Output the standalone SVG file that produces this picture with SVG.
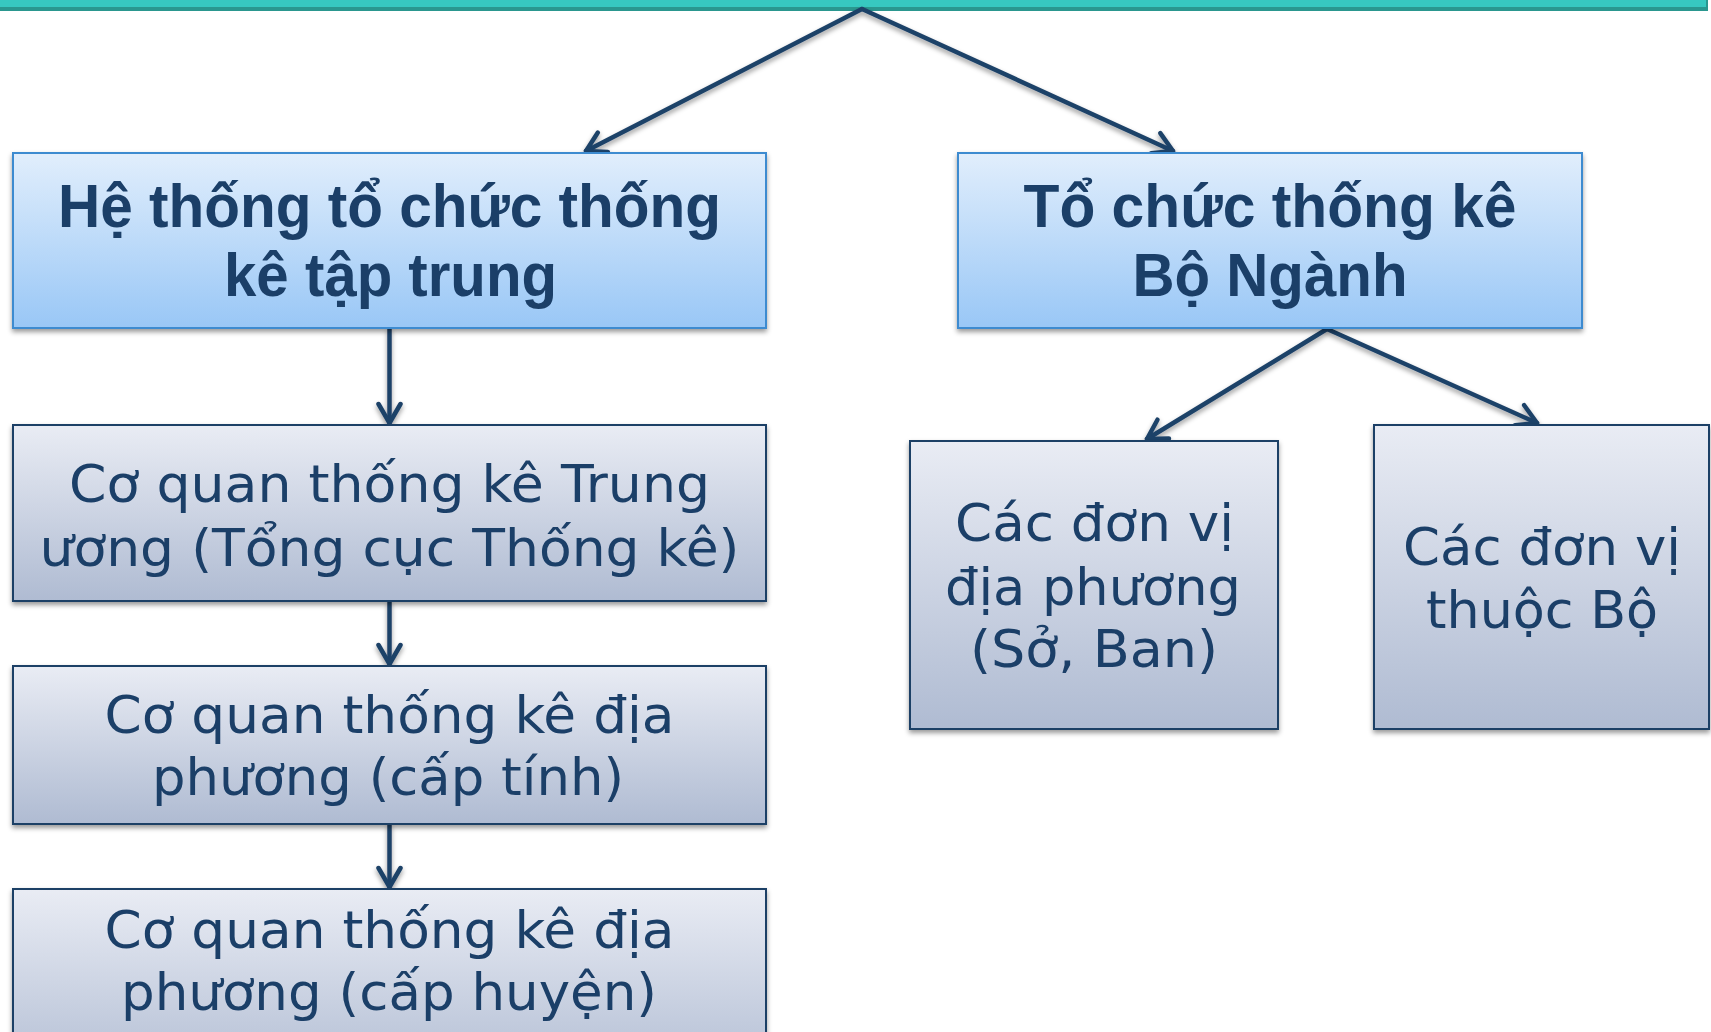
<svg xmlns="http://www.w3.org/2000/svg" width="1711" height="1032" viewBox="0 0 1711 1032">
<style>
.hd{font-family:"Liberation Sans",Arial,sans-serif;font-weight:bold;font-size:61px;fill:#1B3F68;text-anchor:middle}
.tx{font-family:"DejaVu Sans","Noto Sans",sans-serif;font-size:52px;fill:#1B3F68;text-anchor:middle}
.bb{fill:url(#gBlue);stroke:#3D8BD0;stroke-width:2;filter:url(#sh)}
.gb{fill:url(#gGray);stroke:#1F3F66;stroke-width:2;filter:url(#sh)}
.cn{fill:none;stroke:#1F4268;stroke-width:4.5;stroke-linecap:round;marker-end:url(#ah)}
</style>
<defs>
<linearGradient id="gBlue" x1="0" y1="0" x2="0" y2="1"><stop offset="0" stop-color="#E1EEFC"/><stop offset="1" stop-color="#99C7F6"/></linearGradient>
<linearGradient id="gGray" x1="0" y1="0" x2="0" y2="1"><stop offset="0" stop-color="#E9ECF4"/><stop offset="1" stop-color="#AFBBD2"/></linearGradient>
<filter id="sh" x="-5%" y="-5%" width="110%" height="115%"><feDropShadow dx="0" dy="3" stdDeviation="2.5" flood-color="#000" flood-opacity="0.4"/></filter>
<marker id="ah" markerUnits="userSpaceOnUse" viewBox="-22 -14 26 28" refX="0" refY="0" markerWidth="26" markerHeight="28" orient="auto">
<path d="M-19,-11 L0,0 L-19,11" fill="none" stroke="#1F4268" stroke-width="4.5" stroke-linecap="round" stroke-linejoin="round"/>
</marker>
</defs>
<rect x="0" y="0" width="1708" height="11" fill="#2A978F"/>
<rect x="0" y="0" width="1706" height="7" fill="#37C8C0"/>
<g id="connectors" filter="url(#sh)">
<path class="cn" d="M862,9 L586,151"/>
<path class="cn" d="M862,9 L1173,151"/>
<path class="cn" d="M389.5,329 L389.5,423"/>
<path class="cn" d="M389.5,602 L389.5,664"/>
<path class="cn" d="M389.5,825 L389.5,887"/>
<path class="cn" d="M1327,329 L1147,439"/>
<path class="cn" d="M1327,329 L1537,423"/>
</g>
<g id="n1"><rect class="bb" x="13" y="153" width="753" height="175"/>
<text class="hd" x="389.5" y="227" textLength="663" lengthAdjust="spacingAndGlyphs">Hệ thống tổ chức thống</text>
<text class="hd" x="390.5" y="296" textLength="333" lengthAdjust="spacingAndGlyphs">kê tập trung</text></g>
<g id="n2"><rect class="bb" x="958" y="153" width="624" height="175"/>
<text class="hd" x="1270" y="227" textLength="493" lengthAdjust="spacingAndGlyphs">Tổ chức thống kê</text>
<text class="hd" x="1270" y="296" textLength="275" lengthAdjust="spacingAndGlyphs">Bộ Ngành</text></g>
<g id="n3"><rect class="gb" x="13" y="425" width="753" height="176"/>
<text class="tx" x="389.5" y="502" textLength="641" lengthAdjust="spacingAndGlyphs">Cơ quan thống kê Trung</text>
<text class="tx" x="389.5" y="566" textLength="700" lengthAdjust="spacingAndGlyphs">ương (Tổng cục Thống kê)</text></g>
<g id="n4"><rect class="gb" x="13" y="666" width="753" height="158"/>
<text class="tx" x="389.5" y="733" textLength="570" lengthAdjust="spacingAndGlyphs">Cơ quan thống kê địa</text>
<text class="tx" x="388" y="795" textLength="472" lengthAdjust="spacingAndGlyphs">phương (cấp tính)</text></g>
<g id="n5"><rect class="gb" x="13" y="889" width="753" height="200"/>
<text class="tx" x="389.5" y="948" textLength="570" lengthAdjust="spacingAndGlyphs">Cơ quan thống kê địa</text>
<text class="tx" x="389" y="1010" textLength="536" lengthAdjust="spacingAndGlyphs">phương (cấp huyện)</text></g>
<g id="n6"><rect class="gb" x="910" y="441" width="368" height="288"/>
<text class="tx" x="1094.5" y="541" textLength="279" lengthAdjust="spacingAndGlyphs">Các đơn vị</text>
<text class="tx" x="1093" y="605" textLength="296" lengthAdjust="spacingAndGlyphs">địa phương</text>
<text class="tx" x="1094" y="667" textLength="248" lengthAdjust="spacingAndGlyphs">(Sở, Ban)</text></g>
<g id="n7"><rect class="gb" x="1374" y="425" width="335" height="304"/>
<text class="tx" x="1542" y="565" textLength="278" lengthAdjust="spacingAndGlyphs">Các đơn vị</text>
<text class="tx" x="1542" y="628" textLength="232" lengthAdjust="spacingAndGlyphs">thuộc Bộ</text></g>
</svg>
